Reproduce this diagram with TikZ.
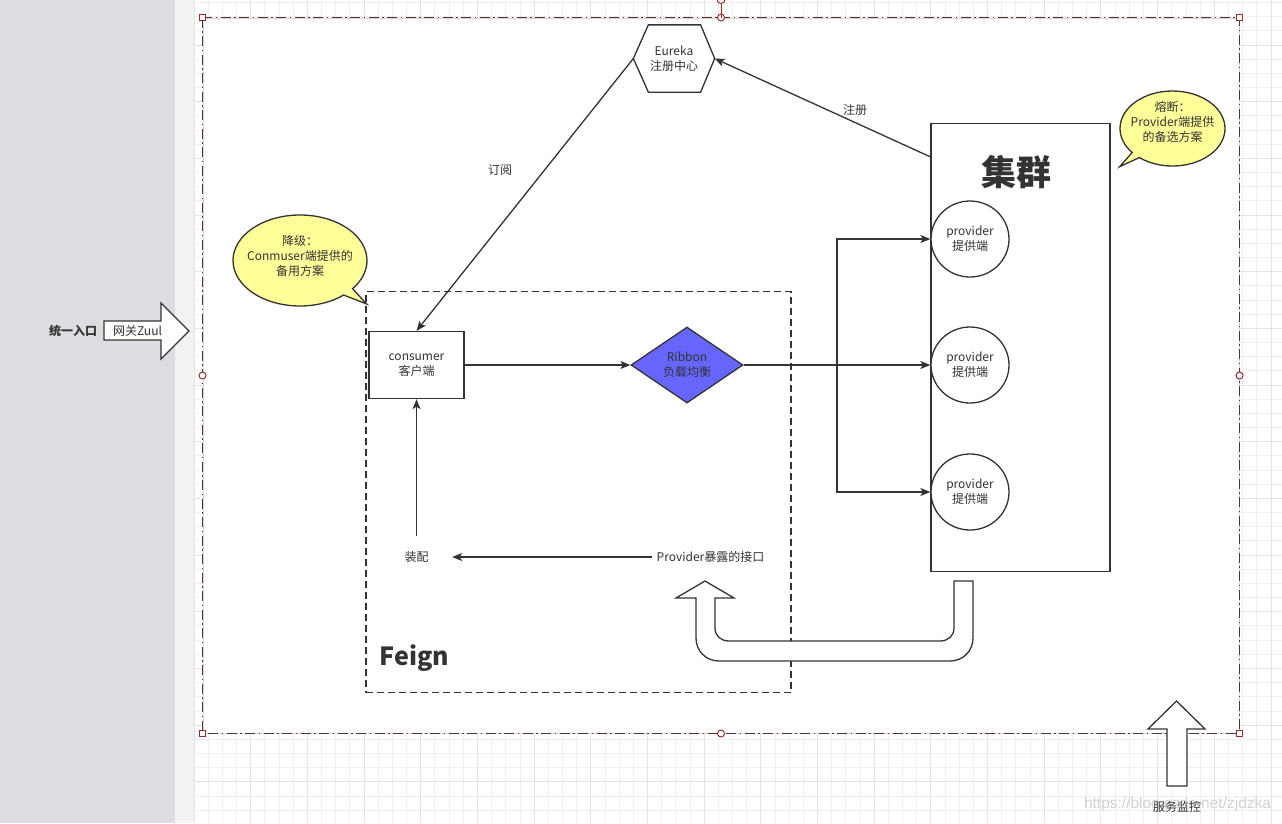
\documentclass[tikz,border=0pt]{standalone}
\usepackage{fontspec}
\setmainfont{Noto Sans CJK SC}
\newfontfamily\markfont{Liberation Sans}
\usetikzlibrary{shapes.geometric,shapes.callouts,arrows.meta}

\definecolor{ink}{HTML}{333333}
\definecolor{panel}{HTML}{DCDDE1}
\definecolor{strip}{HTML}{F2F2F3}
\definecolor{gridminor}{HTML}{EFEFEF}
\definecolor{gridmajor}{HTML}{E2E2E2}
\definecolor{framecol}{HTML}{4A3838}
\definecolor{framepink}{HTML}{EBCBCB}
\definecolor{handlecol}{HTML}{962D2D}
\definecolor{notecol}{HTML}{FFFF99}
\definecolor{lbcol}{HTML}{6666FF}
\definecolor{markgray}{HTML}{D2D2D2}

\begin{document}
\begin{tikzpicture}[
    x=1pt, y=-1pt,
    line width=1.3pt,
    >={Stealth[length=10pt,width=8pt,inset=2.5pt]},
    lbl/.style={inner sep=0pt, text=ink, align=center, font=\fontsize{12}{15}\selectfont},
    block/.style={lbl, draw=ink, fill=white},
    provider/.style={block, ellipse, minimum width=78pt, minimum height=76pt},
    note/.style={ellipse callout, draw=ink, fill=notecol, inner sep=0pt, callout pointer arc=11},
    link/.style={draw=ink, ->},
    bigarrow/.style={draw=ink, fill=white, line join=miter},
    gridline/.style={line width=0.8pt},
    handlesq/.style={draw=handlecol, fill=white, line width=1pt, minimum size=6pt, inner sep=0pt},
    handlecirc/.style={handlesq, circle, minimum size=7pt}
  ]
  \useasboundingbox (0,0) rectangle (1282,823);

  %% ---- Background: side panel, strip and grid ----
  \fill[panel] (0,0) rectangle (175,823);
  \fill[strip] (175,0) rectangle (195,823);
  \fill[white] (195,0) rectangle (1282,823);
  \foreach \i in {0,...,76} \draw[gridline, gridminor] ({194+\i*14.17},0) -- ({194+\i*14.17},823);
  \foreach \j in {0,...,57} \draw[gridline, gridminor] (195,{2.4+\j*14.17}) -- (1282,{2.4+\j*14.17});
  \foreach \i in {0,...,19} \draw[gridline, gridmajor] ({194+\i*56.68},0) -- ({194+\i*56.68},823);
  \foreach \j in {0,...,13} \draw[gridline, gridmajor] (195,{44.9+\j*56.68}) -- (1282,{44.9+\j*56.68});

  %% ---- Container ----
  \node[draw=framepink, line width=1pt, fill=white, minimum width=1036pt, minimum height=715pt, inner sep=0pt] (frame) at (721,375.5) {};
  \draw[framecol, line width=1.4pt, dash pattern=on 10pt off 3.5pt on 1.5pt off 3.5pt] (frame.north west) rectangle (frame.south east);

  %% ---- Feign group ----
  \node[draw=ink, dash pattern=on 7pt off 4pt, minimum width=425pt, minimum height=401pt, inner sep=0pt] (feign) at (578.5,492) {};
  \node[lbl, anchor=west, font=\fontsize{25}{30}\selectfont\bfseries] (feignlbl) at (379,658) {Feign};

  % Callouts
  \node[note, minimum width=134pt, minimum height=91pt, callout absolute pointer={(366.7,304)}] (degrade) at (300,260.5) {};
  \node[lbl] (degradetxt) at ([yshift=4.5pt]degrade.center) {降级：\\Conmuser端提供的\\备用方案};
  \node[note, minimum width=105pt, minimum height=75pt, callout absolute pointer={(1119.6,166.7)}] (fuse) at (1172.5,128.5) {};
  \node[lbl] (fusetxt) at ([yshift=6.5pt]fuse.center) {熔断：\\Provider端提供\\的备选方案};

  % Registry
  \node[lbl, minimum width=80pt, minimum height=66pt] (eureka) at (674,58.5) {Eureka\\注册中心};
  \draw[ink] (eureka.west) -- ([xshift=15pt]eureka.north west) -- ([xshift=-14pt]eureka.north east)
    -- (eureka.east) -- ([xshift=-14pt]eureka.south east) -- ([xshift=15pt]eureka.south west) -- cycle;

  % Consumer and load balancer
  \node[block, minimum width=95pt, minimum height=67pt] (consumer) at (416.5,365) {consumer\\客户端};
  \node[block, diamond, aspect=1.47, fill=lbcol, minimum width=112pt, minimum height=76pt] (ribbon) at (687,365) {Ribbon\\负载均衡};

  % Cluster of providers
  \node[block, minimum width=179pt, minimum height=448pt] (cluster) at (1020.5,347.5) {};
  \node[lbl, font=\fontsize{35}{40}\selectfont\bfseries] (clustertitle) at (1016,172) {集群};
  \node[provider] (prov1) at (970,239) {provider\\提供端};
  \node[provider] (prov2) at (970,365) {provider\\提供端};
  \node[provider] (prov3) at (970,492) {provider\\提供端};

  %% ---- Connectors ----
  \draw[link] (eureka.west) -- (consumer.north);
  \node[lbl] (sublbl) at (500,170) {订阅};
  \draw[link] ([yshift=-34pt]cluster.north west) -- (eureka.east);
  \node[lbl] (reglbl) at (855,110) {注册};

  \draw[link] (consumer) -- (ribbon);
  \coordinate (fork) at (837,365);
  \draw[link] (ribbon.east) -- (prov2.west);
  \draw[link] (fork) |- (prov1.west);
  \draw[link] (fork) |- (prov3.west);

  \node[lbl, minimum width=70pt, minimum height=40pt] (assemble) at (416.5,557) {装配};
  \node[lbl, anchor=west, inner xsep=4pt] (iface) at (652,557) {Provider暴露的接口};
  \draw[link] (iface) -- (assemble);
  \draw[link] (assemble) -- (consumer);

  % Return arrow from cluster to interface
  \draw[bigarrow] (954,581) -- (973,581) -- (973,638) .. controls (973,651) and (963,661) .. (950,661)
    -- (719,661) .. controls (706,661) and (696,651) .. (696,638) -- (696,598) -- (676,598) -- (705,581)
    -- (734,598) -- (715,598) -- (715,628) .. controls (715,636) and (721,641) .. (729,641)
    -- (940,641) .. controls (948,641) and (954,636) .. (954,628) -- cycle;

  %% ---- Gateway and monitoring ----
  \draw[bigarrow] (104,321) -- (161,321) -- (161,303) -- (189,331) -- (161,359) -- (161,340) -- (104,340) -- cycle;
  \node[lbl] (zuul) at (137.5,330.5) {网关Zuul};
  \node[lbl, font=\fontsize{12}{15}\selectfont\bfseries] (entry) at (73,331) {统一入口};

  \draw[bigarrow] (1167,786) -- (1167,729) -- (1148,729) -- (1176.5,701) -- (1205,729) -- (1187,729) -- (1187,786) -- cycle;
  \node[lbl, text=markgray, font=\markfont\fontsize{15.5}{18}\selectfont] (mark) at (1177.5,804) {https://blog.csdn.net/zjdzka};
  \node[lbl] (monitor) at (1177,807) {服务监控};

  % Selection handles
  \foreach \a in {north west, north east, south west, south east} \node[handlesq] at (frame.\a) {};
  \foreach \a in {north, south, east, west} \node[handlecirc] at (frame.\a) {};
  \coordinate (rot) at ([yshift=18pt]frame.north);
  \draw[handlecol, line width=1pt] (frame.north) -- ([yshift=-4pt]rot);
  \node[handlecirc, minimum size=8pt] (rothandle) at (rot) {};

\end{tikzpicture}
\end{document}
